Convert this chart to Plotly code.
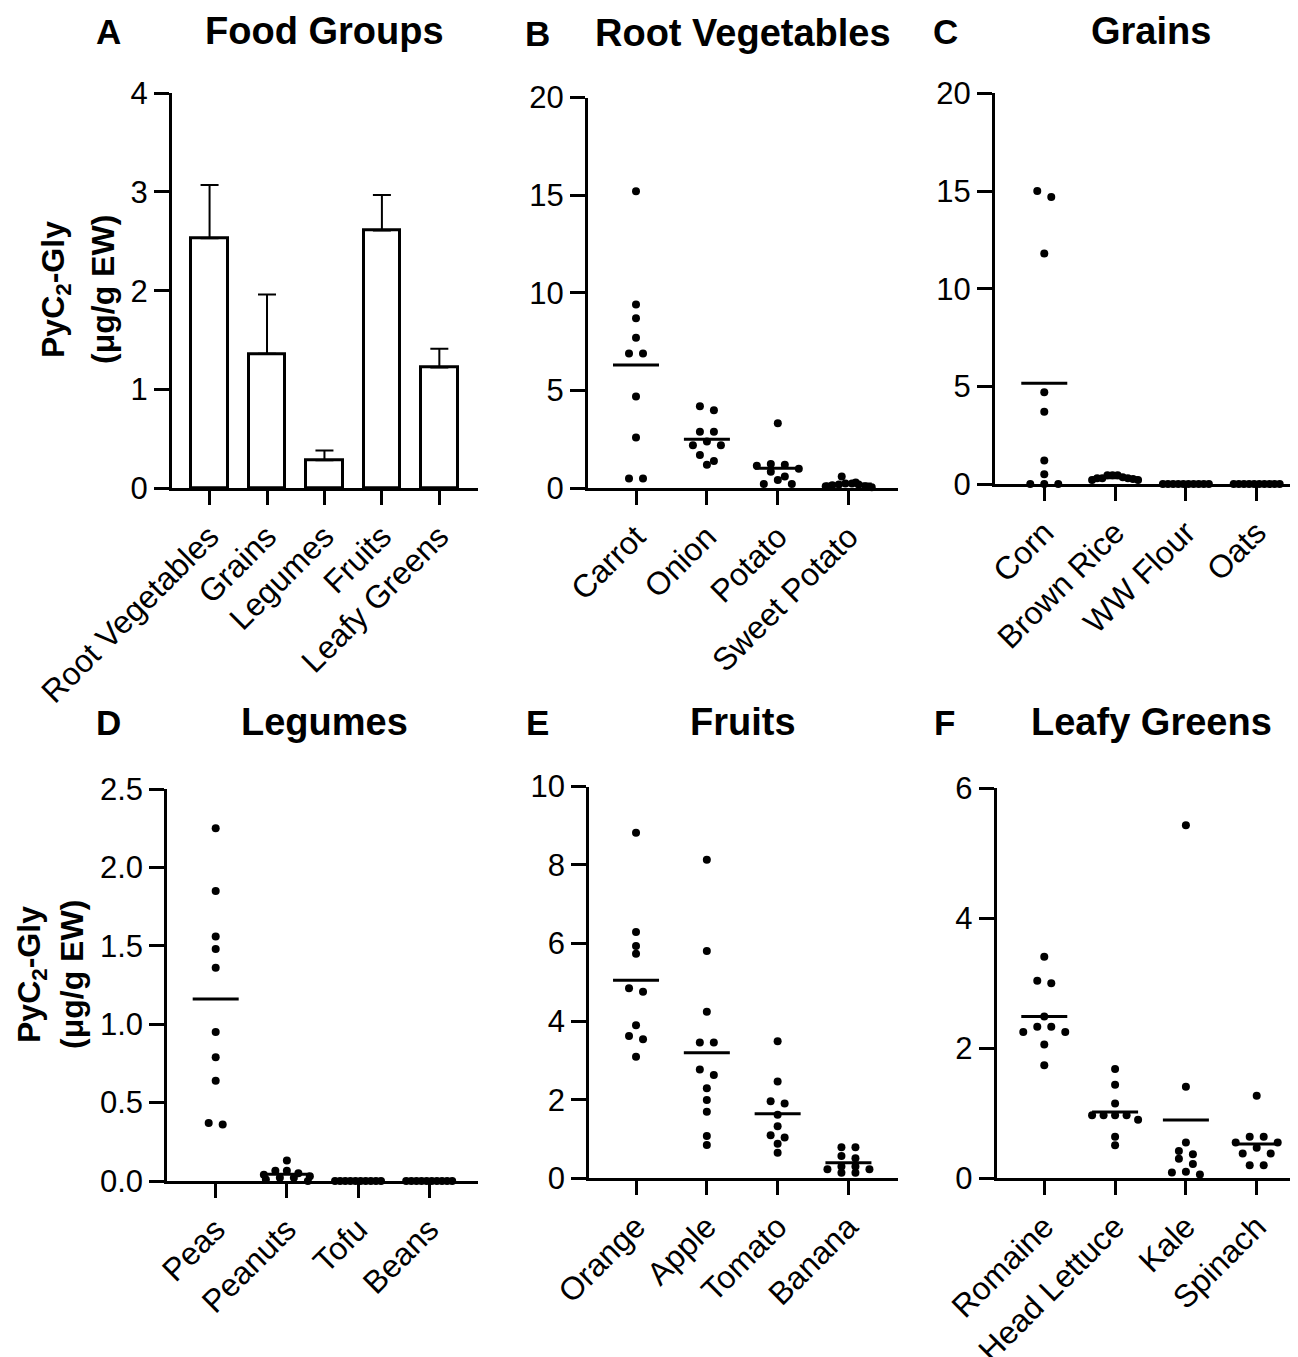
import numpy as np
import plotly.graph_objects as go

# page body has an 8px margin: the figure is placed at (8, 8) in the window
OFF = 8
W, H = 1298 - OFF, 1357 - OFF
FONT = "Liberation Sans, Arial, Helvetica, sans-serif"

# ---------------- data ----------------
group_names = ["Root Vegetables", "Grains", "Legumes", "Fruits", "Leafy Greens"]
group_means = [2.53, 1.36, 0.28, 2.61, 1.22]
group_sem = [0.54, 0.60, 0.10, 0.36, 0.19]

root_names = ["Carrot", "Onion", "Potato", "Sweet Potato"]
carrot = [15.2, 9.4, 8.7, 7.7, 6.9, 6.9, 4.7, 2.6, 0.5, 0.5]
onion = [4.2, 4.0, 2.9, 2.9, 2.4, 2.2, 2.2, 1.7, 1.4, 1.2]
potato = [3.33, 1.25, 1.2, 1.15, 1.0, 0.85, 0.6, 0.43, 0.22, 0.22]
sweet_potato = [0.6, 0.3, 0.25, 0.25, 0.2, 0.2, 0.15, 0.1, 0.1, 0.05]

grain_names = ["Corn", "Brown Rice", "WW Flour", "Oats"]
corn = [15.0, 14.7, 11.8, 4.7, 3.7, 1.2, 0.5, 0.0, 0.0, 0.0]
brown_rice = [0.45, 0.45, 0.45, 0.35, 0.3, 0.3, 0.3, 0.25, 0.2, 0.2]
ww_flour = [0.0, 0.0, 0.0, 0.0, 0.0, 0.0, 0.0, 0.0, 0.0, 0.0]
oats = [0.0, 0.0, 0.0, 0.0, 0.0, 0.0, 0.0, 0.0, 0.0, 0.0]

legume_names = ["Peas", "Peanuts", "Tofu", "Beans"]
peas = [2.25, 1.85, 1.56, 1.48, 1.36, 0.95, 0.79, 0.64, 0.37, 0.36]
peanuts = [0.13, 0.065, 0.065, 0.05, 0.04, 0.03, 0.02, 0.02, 0.01, 0.0]
tofu = [0.0, 0.0, 0.0, 0.0, 0.0, 0.0, 0.0, 0.0, 0.0, 0.0]
beans = [0.0, 0.0, 0.0, 0.0, 0.0, 0.0, 0.0, 0.0, 0.0, 0.0]

fruit_names = ["Orange", "Apple", "Tomato", "Banana"]
orange = [8.82, 6.29, 5.93, 5.73, 4.85, 4.76, 3.91, 3.63, 3.55, 3.10]
apple = [8.13, 5.80, 4.25, 3.47, 3.47, 2.78, 2.64, 2.30, 2.0, 1.70, 1.08, 0.85]
tomato = [3.50, 2.47, 1.97, 1.91, 1.62, 1.33, 1.10, 1.04, 0.88, 0.65]
banana = [0.79, 0.79, 0.57, 0.51, 0.30, 0.30, 0.23, 0.23, 0.14, 0.14]

leafy_names = ["Romaine", "Head Lettuce", "Kale", "Spinach"]
romaine = [3.41, 3.04, 3.0, 2.49, 2.33, 2.33, 2.25, 2.25, 2.06, 1.74]
head_lettuce = [1.68, 1.44, 1.15, 0.97, 0.97, 0.97, 0.97, 0.90, 0.64, 0.51]
kale = [5.43, 1.41, 0.55, 0.42, 0.37, 0.30, 0.22, 0.10, 0.09, 0.06]
spinach = [1.27, 0.64, 0.64, 0.55, 0.55, 0.47, 0.38, 0.38, 0.20, 0.20]

# ---------------- layout of panels (window pixel boxes) ----------------
panels = [
    dict(letter="A", title="Food Groups", box=(172, 478, 93.3, 488), xr=(-0.654, 4.673), yr=(0, 4), dtick=1, fmt="d",
         names=group_names, kind="bar", title_x=324, letter_x=108, ty=31),
    dict(letter="B", title="Root Vegetables", box=(588, 898, 97.5, 488.3), xr=(-0.677, 3.695), yr=(0, 20), dtick=5, fmt="d",
         names=root_names, kind="dot", groups=[carrot, onion, potato, sweet_potato], title_x=743, letter_x=537, ty=33),
    dict(letter="C", title="Grains", box=(995, 1296, 93.4, 484), xr=(-0.696, 3.555), yr=(0, 20), dtick=5, fmt="d",
         names=grain_names, kind="dot", groups=[corn, brown_rice, ww_flour, oats], title_x=1151, letter_x=945, ty=31),
    dict(letter="D", title="Legumes", box=(167.3, 478.3, 789, 1181), xr=(-0.68, 3.69), yr=(0, 2.5), dtick=0.5, fmt=".1f",
         names=legume_names, kind="dot", groups=[peas, peanuts, tofu, beans], title_x=324, letter_x=108, ty=722),
    dict(letter="E", title="Fruits", box=(589.3, 898, 786.6, 1178.3), xr=(-0.66, 3.70), yr=(0, 10), dtick=2, fmt="d",
         names=fruit_names, kind="dot", groups=[orange, apple, tomato, banana], title_x=743, letter_x=537, ty=722),
    dict(letter="F", title="Leafy Greens", box=(996.7, 1296, 788.3, 1178.3), xr=(-0.672, 3.555), yr=(0, 6), dtick=2, fmt="d",
         names=leafy_names, kind="dot", groups=[romaine, head_lettuce, kale, spinach], title_x=1151, letter_x=944, ty=722),
]


def px_x(px):
    return (px - OFF) / W


def px_y(py):
    return 1 - (py - OFF) / H


def swarm(vals, ppu_y, ppu_x, s=14.0, half_max=23.0, thr=6.0):
    """Prism-like symmetric horizontal spreading of points in rows (pixel based)."""
    order = sorted(range(len(vals)), key=lambda i: -vals[i])
    rows = []
    for i in order:
        if rows and (vals[rows[-1][0]] - vals[i]) * ppu_y <= thr:
            rows[-1].append(i)
        else:
            rows.append([i])
    offs = [0.0] * len(vals)
    for r in rows:
        n = len(r)
        step = s if n == 1 else min(s, 2 * half_max / (n - 1))
        pos = [(k - (n - 1) / 2) * step for k in range(n)]
        pos_sorted = sorted(pos, key=lambda p: (abs(p), p))
        for idx, p in zip(r, pos_sorted):
            offs[idx] = p / ppu_x
    return offs


fig = go.Figure()
annotations = []

for k, p in enumerate(panels):
    ax = "" if k == 0 else str(k + 1)
    xa, ya = "x" + ax, "y" + ax
    x0, x1, ytop, ybot = p["box"]
    ppu_x = (x1 - x0) / (p["xr"][1] - p["xr"][0])
    ppu_y = (ybot - ytop) / (p["yr"][1] - p["yr"][0])

    if p["kind"] == "bar":
        fig.add_trace(go.Bar(
            x=list(range(len(p["names"]))), y=group_means, width=0.638,
            marker=dict(color="white", line=dict(color="black", width=3)),
            error_y=dict(type="data", symmetric=False, array=group_sem,
                         arrayminus=[0.0 for _ in group_sem], color="black", thickness=2, width=9),
            xaxis=xa, yaxis=ya, showlegend=False, cliponaxis=False))
    else:
        half = 23.0 / ppu_x
        for ci, vals in enumerate(p["groups"]):
            offs = swarm(vals, ppu_y, ppu_x)
            fig.add_trace(go.Scatter(
                x=[ci + o for o in offs], y=vals, mode="markers",
                marker=dict(color="black", size=8),
                xaxis=xa, yaxis=ya, showlegend=False, cliponaxis=False))
            m = float(np.mean(vals))
            fig.add_trace(go.Scatter(
                x=[ci - half, ci + half], y=[m, m], mode="lines",
                line=dict(color="black", width=3),
                xaxis=xa, yaxis=ya, showlegend=False, cliponaxis=False))

    yvals = list(np.arange(p["yr"][0], p["yr"][1] + 1e-9, p["dtick"]))
    ytext = [format(v, ".1f") if p["fmt"] == ".1f" else str(int(round(v))) for v in yvals]

    fig.update_layout(**{
        ("xaxis" + ax): dict(
            domain=[px_x(x0), px_x(x1)], range=list(p["xr"]), anchor=ya, automargin=False,
            tickmode="array", tickvals=list(range(len(p["names"]))), ticktext=p["names"],
            tickangle=-45, ticks="outside", ticklen=14, tickwidth=3, tickcolor="black",
            showline=True, linewidth=3, linecolor="black", showgrid=False, zeroline=False,
            tickfont=dict(family=FONT, size=32, color="black"), fixedrange=True),
        ("yaxis" + ax): dict(
            domain=[px_y(ybot), px_y(ytop)], range=list(p["yr"]), anchor=xa, automargin=False,
            tickmode="array", tickvals=yvals, ticktext=ytext,
            ticks="outside", ticklen=15, tickwidth=3, tickcolor="black",
            showline=True, linewidth=3, linecolor="black", showgrid=False, zeroline=False,
            tickfont=dict(family=FONT, size=31, color="black"), fixedrange=True),
    })

    annotations.append(dict(text="<b>" + p["letter"] + "</b>", x=px_x(p["letter_x"]), y=px_y(p["ty"]),
                            xref="paper", yref="paper", xanchor="center", yanchor="middle", showarrow=False,
                            font=dict(family=FONT, size=35, color="black")))
    annotations.append(dict(text="<b>" + p["title"] + "</b>", x=px_x(p["title_x"]), y=px_y(p["ty"]),
                            xref="paper", yref="paper", xanchor="center", yanchor="middle", showarrow=False,
                            font=dict(family=FONT, size=38, color="black")))

# y-axis titles
for (lx1, lx2, cy) in [(56, 103, 290), (31, 72, 975)]:
    annotations.append(dict(text="<b>PyC<sub>2</sub>-Gly</b>", x=px_x(lx1), y=px_y(cy), xref="paper", yref="paper",
                            xanchor="center", yanchor="middle", textangle=-90, showarrow=False,
                            font=dict(family=FONT, size=32, color="black")))
    annotations.append(dict(text="<b>(\u03bcg/g EW)</b>", x=px_x(lx2), y=px_y(cy), xref="paper", yref="paper",
                            xanchor="center", yanchor="middle", textangle=-90, showarrow=False,
                            font=dict(family=FONT, size=32, color="black")))

fig.update_layout(
    width=W, height=H, margin=dict(l=0, r=0, t=0, b=0, autoexpand=False),
    paper_bgcolor="white", plot_bgcolor="white",
    annotations=annotations, showlegend=False, bargap=0,
    font=dict(family=FONT, color="black"),
)

fig.write_html("out.html", config={"responsive": False})
